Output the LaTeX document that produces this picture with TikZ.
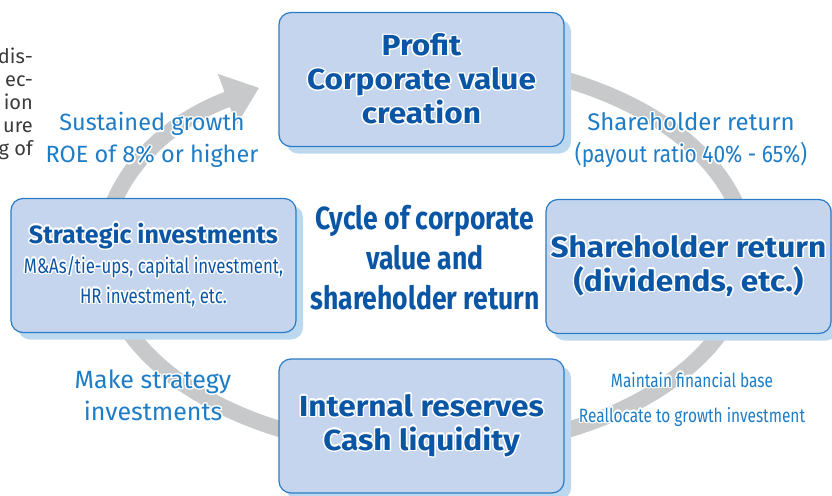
\documentclass[tikz,border=0pt]{standalone}
\usepackage{fontspec}
\setmainfont{Fira Sans}
\newfontfamily\widefont[FakeStretch=1.09]{Fira Sans}
\newfontfamily\narrowfont[FakeStretch=0.87]{Fira Sans}
\newfontfamily\titlefont[FakeStretch=0.83]{Fira Sans}
\newfontfamily\condfont[FakeStretch=0.8]{Fira Sans}
\usepackage{contour}
\contourlength{1.4pt}
\usepackage{xcolor}
\definecolor{cyclegray}{HTML}{C8C9CB}
\definecolor{boxfill}{HTML}{C6D5EE}
\definecolor{boxline}{HTML}{2A7CC7}
\definecolor{boxshade}{HTML}{BCD8EF}
\definecolor{deepblue}{HTML}{0B56A4}
\definecolor{skyblue}{HTML}{1E7DC6}
\definecolor{bodygray}{HTML}{3A3A3A}
\usepackage{tikz}
\usetikzlibrary{arrows.meta, shadows}
\tikzset{
  cbox/.style ={rectangle, rounded corners=12pt, draw=boxline, line width=1.2pt, fill=boxfill,
                text=deepblue, align=center, minimum width=285pt, minimum height=134pt,
                drop shadow={shadow xshift=7pt, shadow yshift=-7pt, fill=boxshade, opacity=1}},
  cboxw/.style={cbox, font=\widefont\bfseries\fontsize{29}{34}\selectfont},
  cband/.style={line width=16pt, color=cyclegray, -{Triangle[length=34pt, width=52pt]}},
  clbl/.style ={text=skyblue, align=center, font=\fontsize{24}{32}\selectfont},
}
% white outline round the lettering
\newcommand{\halo}[1]{\contour{white}{#1}}

\begin{document}
\begin{tikzpicture}[x=1pt, y=1pt]
  \useasboundingbox (0,0) rectangle (832,-495);
  % cut-off body text at the margin
  \node[text=bodygray, align=right, anchor=north east, inner sep=0pt,
        font=\fontsize{20}{23}\selectfont] (body) at (33,-48) {dis-\\ec-\\ion\\ure\\g of};
  % the cycle band, clockwise from behind the top box
  \coordinate (hub) at (425,-255);
  \draw[cband] ([shift={(100:322 and 195)}]hub)
               arc[start angle=100, end angle=-239, x radius=322, y radius=195];
  % four stages
  \node[cboxw] (profit)  at (421.5,-79.5) {\halo{Profit}\\\halo{Corporate value}\\\halo{creation}};
  \node[cboxw] (payout)  at (688.5,-266.5) {\halo{Shareholder return}\\\halo{(dividends, etc.)}};
  \node[cboxw] (reserve) at (421.5,-426) {\halo{Internal reserves}\\\halo{Cash liquidity}};
  \node[cbox, font=\fontsize{25}{30}\selectfont] (strategy) at (153.5,-265.5)
       {{\bfseries\halo{Strategic investments}}\\
        {\condfont\fontsize{21}{28}\selectfont\halo{M\&As/tie-ups, capital investment,}}\\
        {\condfont\fontsize{21}{28}\selectfont\halo{HR investment, etc.}}};
  % labels along the band
  \node[clbl, font=\fontsize{23.5}{32}\selectfont] (growth) at (152,-141)
       {\halo{Sustained growth}\\\halo{ROE of 8\% or higher}};
  \node[clbl] (payratio) at (691,-141)
       {\halo{Shareholder return}\\{\narrowfont\halo{(payout ratio 40\% - 65\%)}}};
  \node[clbl, font=\fontsize{25}{32}\selectfont] (invest) at (153,-396)
       {\halo{Make strategy}\\\halo{investments}};
  \node[clbl, font=\condfont\fontsize{19.3}{35}\selectfont] (finance) at (692,-400)
       {\halo{Maintain financial base}\\\halo{Reallocate to growth investment}};
  % centre title
  \node[text=deepblue, align=center, font=\titlefont\bfseries\fontsize{32}{40}\selectfont] (title)
       at (425,-258) {Cycle of corporate\\value and\\shareholder return};
\end{tikzpicture}
\end{document}
